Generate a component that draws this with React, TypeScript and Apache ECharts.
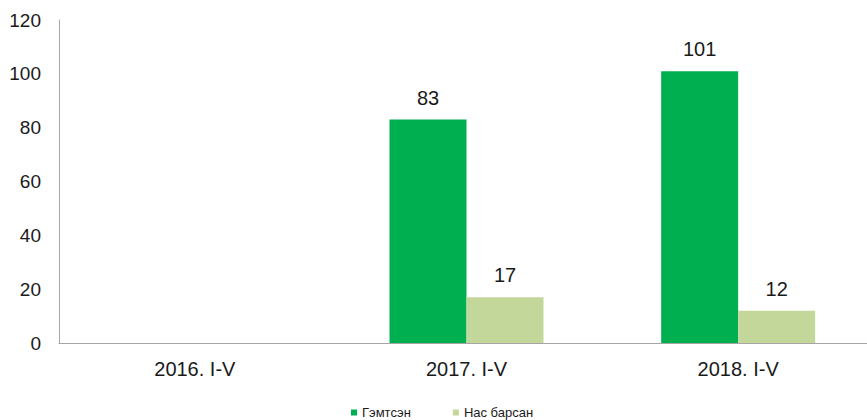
import React, { useEffect, useRef } from "react";
import * as echarts from "echarts";

const categories = ["2016. I-V", "2017. I-V", "2018. I-V"];
const injured = [null, 83, 101];
const killed = [null, 17, 12];
const seriesNames = ["Гэмтсэн", "Нас барсан"];

export default function App() {
  const ref = useRef<HTMLDivElement>(null);
  useEffect(() => {
    const chart = echarts.init(ref.current!, null, { renderer: "svg" });
    const font = "Liberation Sans, Arial, sans-serif";
    const labelStyle = { show: true, position: "top", distance: 12, fontFamily: font, fontSize: 20, color: "#1a1a1a" };
    chart.setOption({
      animation: false,
      grid: { left: 59, top: 20, width: 815, height: 323 },
      legend: {
        top: 406,
        left: 351,
        padding: 0,
        itemWidth: 6,
        itemHeight: 6,
        itemGap: 42,
        icon: "rect",
        textStyle: { fontFamily: font, fontSize: 13, color: "#1a1a1a", lineHeight: 13 },
        data: seriesNames,
      },
      xAxis: {
        type: "category",
        data: categories,
        axisLine: { lineStyle: { color: "#a6a6a6", width: 1 } },
        axisTick: { show: false },
        axisLabel: { fontFamily: font, fontSize: 20, color: "#1a1a1a", margin: 16 },
      },
      yAxis: {
        type: "value",
        min: 0,
        max: 120,
        interval: 20,
        axisLine: { show: true, lineStyle: { color: "#a6a6a6", width: 1 } },
        axisTick: { show: false },
        splitLine: { show: false },
        axisLabel: { fontFamily: font, fontSize: 19, color: "#1a1a1a", margin: 18 },
      },
      series: [
        {
          name: seriesNames[0],
          type: "bar",
          data: injured,
          barWidth: 77,
          barGap: "0%",
          itemStyle: { color: "#00B050" },
          label: labelStyle,
        },
        {
          name: seriesNames[1],
          type: "bar",
          data: killed,
          barWidth: 77,
          barGap: "0%",
          itemStyle: { color: "#C4D79B" },
          label: labelStyle,
        },
      ],
    });
    return () => chart.dispose();
  }, []);
  return (
    <div style={{ width: 867, height: 420, position: "absolute", left: 0, top: 0, overflow: "hidden" }}>
      <div ref={ref} style={{ width: 890, height: 420 }} />
    </div>
  );
}
